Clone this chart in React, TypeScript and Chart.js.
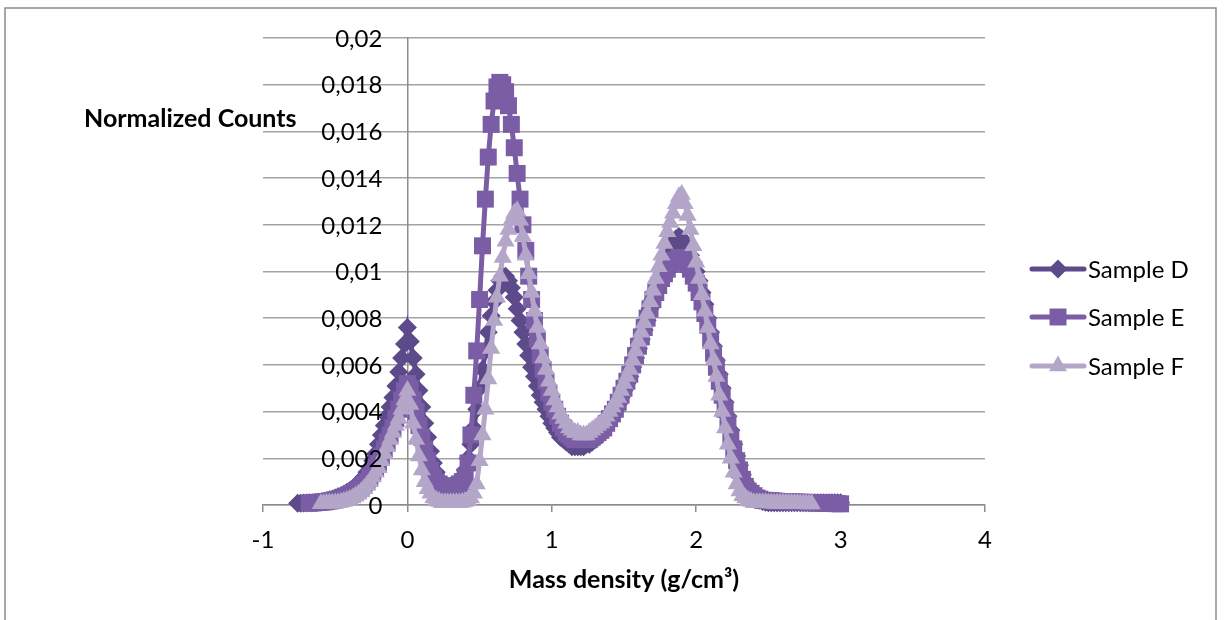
import React, { useEffect, useRef } from 'react';
import { Chart, registerables } from 'chart.js';

Chart.register(...registerables);

// Bin centres (mass density, g/cm³)
const X = [
  -0.76, -0.74, -0.72, -0.7, -0.68, -0.66, -0.64, -0.62, -0.6, -0.58,
  -0.56, -0.54, -0.52, -0.5, -0.48, -0.46, -0.44, -0.42, -0.4, -0.38,
  -0.36, -0.34, -0.32, -0.3, -0.28, -0.26, -0.24, -0.22, -0.2, -0.18,
  -0.16, -0.14, -0.12, -0.1, -0.08, -0.06, -0.04, -0.02, 0, 0.02,
  0.04, 0.06, 0.08, 0.1, 0.12, 0.14, 0.16, 0.18, 0.2, 0.22,
  0.24, 0.26, 0.28, 0.3, 0.32, 0.34, 0.36, 0.38, 0.4, 0.42,
  0.44, 0.46, 0.48, 0.5, 0.52, 0.54, 0.56, 0.58, 0.6, 0.62,
  0.64, 0.66, 0.68, 0.7, 0.72, 0.74, 0.76, 0.78, 0.8, 0.82,
  0.84, 0.86, 0.88, 0.9, 0.92, 0.94, 0.96, 0.98, 1, 1.02,
  1.04, 1.06, 1.08, 1.1, 1.12, 1.14, 1.16, 1.18, 1.2, 1.22,
  1.24, 1.26, 1.28, 1.3, 1.32, 1.34, 1.36, 1.38, 1.4, 1.42,
  1.44, 1.46, 1.48, 1.5, 1.52, 1.54, 1.56, 1.58, 1.6, 1.62,
  1.64, 1.66, 1.68, 1.7, 1.72, 1.74, 1.76, 1.78, 1.8, 1.82,
  1.84, 1.86, 1.88, 1.9, 1.92, 1.94, 1.96, 1.98, 2, 2.02,
  2.04, 2.06, 2.08, 2.1, 2.12, 2.14, 2.16, 2.18, 2.2, 2.22,
  2.24, 2.26, 2.28, 2.3, 2.32, 2.34, 2.36, 2.38, 2.4, 2.42,
  2.44, 2.46, 2.48, 2.5, 2.52, 2.54, 2.56, 2.58, 2.6, 2.62,
  2.64, 2.66, 2.68, 2.7, 2.72, 2.74, 2.76, 2.78, 2.8, 2.82,
  2.84, 2.86, 2.88, 2.9, 2.92, 2.94, 2.96, 2.98, 3,
];

const SAMPLE_D = [
  0.00008, 0.00008, 0.00009, 0.00009, 0.0001, 0.0001, 0.00011, 0.00012, 0.00013, 0.00015,
  0.00018, 0.00021, 0.00025, 0.0003, 0.00035, 0.0004, 0.00046, 0.00053, 0.00061, 0.0007,
  0.0008, 0.00092, 0.00106, 0.0012, 0.0014, 0.0016, 0.0019, 0.0022, 0.0026, 0.003,
  0.0034, 0.0038, 0.0042, 0.0046, 0.0051, 0.0057, 0.0063, 0.0069, 0.0076, 0.007,
  0.0063, 0.0056, 0.0049, 0.0042, 0.0035, 0.0029, 0.0023, 0.0018, 0.0014, 0.0011,
  0.0009, 0.0008, 0.0008, 0.0008, 0.0008, 0.0009, 0.001, 0.0012, 0.0015, 0.002,
  0.0026, 0.0033, 0.0041, 0.005, 0.0058, 0.0066, 0.0074, 0.0081, 0.0087, 0.0092,
  0.0096, 0.0098, 0.0098, 0.0096, 0.0093, 0.0089, 0.0084, 0.0079, 0.0074, 0.0069,
  0.0064, 0.0059, 0.0055, 0.0051, 0.0047, 0.0044, 0.0041, 0.0038, 0.0035, 0.0033,
  0.0031, 0.0029, 0.0028, 0.0027, 0.0026, 0.0025, 0.0025, 0.0025, 0.0025, 0.0025,
  0.0026, 0.0026, 0.0027, 0.0028, 0.0029, 0.003, 0.0032, 0.0034, 0.0036, 0.0038,
  0.004, 0.0043, 0.0046, 0.0049, 0.0052, 0.0055, 0.0059, 0.0063, 0.0067, 0.0071,
  0.0075, 0.0079, 0.0084, 0.0088, 0.0092, 0.0096, 0.01, 0.0104, 0.0107, 0.011,
  0.0112, 0.0114, 0.0115, 0.0114, 0.0112, 0.011, 0.0107, 0.0104, 0.01, 0.0096,
  0.0091, 0.0086, 0.008, 0.0074, 0.0068, 0.0062, 0.0056, 0.005, 0.0044, 0.0038,
  0.0032, 0.0026, 0.0021, 0.0017, 0.0013, 0.001, 0.0008, 0.0006, 0.0004, 0.0003,
  0.0002, 0.00015, 0.00012, 0.0001, 0.0001, 0.0001, 0.0001, 0.0001, 0.0001, 0.0001,
  0.0001, 0.0001, 0.0001, 0.0001, 0.0001, 0.0001, 0.0001, 0.0001, 0.0001, 0.0001,
  0.0001, 0.0001, 0.0001, 0.0001, 0.0001, 0.0001, 0.0001, 0.0001, 0.0001,
];

const SAMPLE_E = [
  null, null, null, null, 0.00008, 0.00009, 0.0001, 0.00011, 0.00012, 0.00013,
  0.00015, 0.00017, 0.00019, 0.00022, 0.00025, 0.00029, 0.00033, 0.00038, 0.00044, 0.0005,
  0.00058, 0.00067, 0.00077, 0.00089, 0.001, 0.0012, 0.0014, 0.0016, 0.0018, 0.0021,
  0.0024, 0.0027, 0.003, 0.0033, 0.0037, 0.0041, 0.0045, 0.0049, 0.0052, 0.005,
  0.0045, 0.004, 0.0034, 0.0029, 0.0024, 0.0019, 0.0015, 0.0012, 0.001, 0.0009,
  0.0008, 0.0008, 0.0008, 0.0008, 0.0008, 0.0008, 0.0009, 0.001, 0.0012, 0.0018,
  0.003, 0.0047, 0.0066, 0.0088, 0.0111, 0.0131, 0.0149, 0.0163, 0.0173, 0.0179,
  0.0181, 0.018, 0.0177, 0.0171, 0.0163, 0.0153, 0.0142, 0.0131, 0.012, 0.0109,
  0.0098, 0.0088, 0.0079, 0.0071, 0.0064, 0.0058, 0.0053, 0.0048, 0.0044, 0.0041,
  0.0038, 0.0035, 0.0033, 0.0031, 0.003, 0.0029, 0.0028, 0.0028, 0.0028, 0.0028,
  0.0028, 0.0028, 0.0029, 0.003, 0.0031, 0.0032, 0.0033, 0.0035, 0.0037, 0.0039,
  0.0041, 0.0044, 0.0047, 0.005, 0.0053, 0.0056, 0.006, 0.0064, 0.0068, 0.0072,
  0.0076, 0.008, 0.0084, 0.0088, 0.0091, 0.0094, 0.0097, 0.0099, 0.0101, 0.0103,
  0.0104, 0.0105, 0.0106, 0.0106, 0.0105, 0.0103, 0.0101, 0.0098, 0.0095, 0.0091,
  0.0087, 0.0082, 0.0077, 0.0071, 0.0065, 0.0059, 0.0053, 0.0047, 0.0041, 0.0035,
  0.0029, 0.0024, 0.0019, 0.0015, 0.0011, 0.0008, 0.0006, 0.0005, 0.0004, 0.0003,
  0.00025, 0.0002, 0.0002, 0.00019, 0.00018, 0.00017, 0.00016, 0.00015, 0.00015, 0.00014,
  0.00014, 0.00013, 0.00013, 0.00012, 0.00012, 0.00011, 0.00011, 0.0001, 0.0001, 0.0001,
  0.00009, 0.00009, 0.00008, 0.00008, 0.00007, 0.00007, 0.00006, 0.00006, 0.00005,
];

const SAMPLE_F = [
  null, null, null, null, null, null, null, null, 0.00005, 0.00005,
  0.00006, 0.00007, 0.00008, 0.00009, 0.0001, 0.00012, 0.00015, 0.00019, 0.00024, 0.0003,
  0.00037, 0.00046, 0.00057, 0.0007, 0.00085, 0.001, 0.0012, 0.0014, 0.0016, 0.0019,
  0.0022, 0.0025, 0.0028, 0.0031, 0.0034, 0.0037, 0.0041, 0.0045, 0.0049, 0.0043,
  0.0035, 0.0028, 0.0021, 0.0015, 0.001, 0.0007, 0.0005, 0.0003, 0.0002, 0.00015,
  0.0001, 0.0001, 0.0001, 0.0001, 0.0001, 0.0001, 0.0001, 0.00012, 0.00015, 0.0002,
  0.0003, 0.0005, 0.0009, 0.0019, 0.003, 0.0041, 0.0054, 0.0067, 0.0079, 0.0089,
  0.0098, 0.0106, 0.0113, 0.0118, 0.0122, 0.0125, 0.0126, 0.0122, 0.0115, 0.0107,
  0.0099, 0.0091, 0.0083, 0.0076, 0.0069, 0.0063, 0.0058, 0.0053, 0.0049, 0.0045,
  0.0042, 0.0039, 0.0037, 0.0035, 0.0033, 0.0032, 0.0031, 0.0031, 0.003, 0.003,
  0.003, 0.0031, 0.0032, 0.0033, 0.0034, 0.0035, 0.0036, 0.0038, 0.004, 0.0042,
  0.0044, 0.0046, 0.0049, 0.0052, 0.0055, 0.0058, 0.0062, 0.0066, 0.007, 0.0074,
  0.0078, 0.0082, 0.0087, 0.0092, 0.0097, 0.0102, 0.0107, 0.0112, 0.0117, 0.0121,
  0.0125, 0.0129, 0.0132, 0.0133, 0.0129, 0.0124, 0.0118, 0.0111, 0.0104, 0.0097,
  0.009, 0.0083, 0.0076, 0.0069, 0.0062, 0.0055, 0.0047, 0.004, 0.0033, 0.0026,
  0.002, 0.0014, 0.0009, 0.0006, 0.0004, 0.0003, 0.0002, 0.00015, 0.0001, 0.0001,
  0.0001, 0.0001, 0.0001, 0.00009, 0.00009, 0.00008, 0.00008, 0.00008, 0.00007, 0.00007,
  0.00007, 0.00006, 0.00006, 0.00006, 0.00005, 0.00005, 0.00005, 0.00004, 0.00004, null,
  null, null, null, null, null, null, null, null, null,
];

const SERIES_NAMES = ['Sample D', 'Sample E', 'Sample F'];
const X_TICKS = [-1, 0, 1, 2, 3, 4];
const Y_TICKS = [0, 0.002, 0.004, 0.006, 0.008, 0.01, 0.012, 0.014, 0.016, 0.018, 0.02];
const Y_TICK_LABELS = ['0', '0,002', '0,004', '0,006', '0,008', '0,01', '0,012', '0,014', '0,016', '0,018', '0,02'];
const Y_TITLE = 'Normalized Counts';
const X_TITLE = 'Mass density (g/cm³)';

const COLORS = ['#5D4A8A', '#7B5DA6', '#B3A6C9'];
const POINT_STYLES = ['rectRot', 'rect', 'triangle'];
const POINT_RADII = [9.5, 12, 10.5];
const GRID_COLOR = '#A3A3A3';
const AXIS_COLOR = '#8C8C8C';
const FONT = 'Lato';
const TICK_SIZE = 24;
const TITLE_SIZE = 25;

function toPoints(ys: (number | null)[]) {
  const pts: { x: number; y: number }[] = [];
  X.forEach((x, i) => {
    const y = ys[i];
    if (y !== null && y !== undefined) pts.push({ x, y });
  });
  return pts;
}

function drawMarker(ctx: CanvasRenderingContext2D, style: string, x: number, y: number, r: number) {
  ctx.beginPath();
  if (style === 'rectRot') {
    ctx.moveTo(x, y - r);
    ctx.lineTo(x + r, y);
    ctx.lineTo(x, y + r);
    ctx.lineTo(x - r, y);
  } else if (style === 'rect') {
    const s = r * Math.SQRT1_2;
    ctx.rect(x - s, y - s, 2 * s, 2 * s);
  } else {
    ctx.moveTo(x, y - r);
    ctx.lineTo(x + r * Math.sin(Math.PI * 2 / 3), y + r / 2);
    ctx.lineTo(x - r * Math.sin(Math.PI * 2 / 3), y + r / 2);
  }
  ctx.closePath();
  ctx.fill();
}

const framePlugin = {
  id: 'frame',
  beforeDraw(chart: any) {
    const ctx = chart.ctx;
    ctx.save();
    ctx.fillStyle = '#FFFFFF';
    ctx.fillRect(0, 0, chart.width, chart.height);
    ctx.strokeStyle = '#8A8A8A';
    ctx.lineWidth = 1.5;
    ctx.strokeRect(5, 8, 1211, 640);
    ctx.restore();
  },
  afterDatasetsDraw(chart: any) {
    // value labels of the vertical axis sit on top of the data, next to the axis crossing at x = 0
    const ctx = chart.ctx;
    const xs = chart.scales.x;
    const ys = chart.scales.y;
    const axisX = xs.getPixelForValue(0);
    ctx.save();
    ctx.fillStyle = '#000';
    ctx.font = `${TICK_SIZE}px ${FONT}`;
    ctx.textAlign = 'right';
    ctx.textBaseline = 'middle';
    Y_TICKS.forEach((v, i) => {
      ctx.fillText(Y_TICK_LABELS[i], axisX - 25, ys.getPixelForValue(v) + 1);
    });
    ctx.restore();
  },
  afterDraw(chart: any) {
    const ctx = chart.ctx;
    ctx.save();
    ctx.fillStyle = '#000';
    ctx.font = `bold ${TITLE_SIZE}px ${FONT}`;
    ctx.textAlign = 'left';
    ctx.textBaseline = 'middle';
    ctx.fillText(Y_TITLE, 84, 119);
    const rows = [269, 317, 366];
    SERIES_NAMES.forEach((name, i) => {
      const y = rows[i];
      ctx.strokeStyle = COLORS[i];
      ctx.lineWidth = 5;
      ctx.lineCap = 'round';
      ctx.beginPath();
      ctx.moveTo(1032, y);
      ctx.lineTo(1084, y);
      ctx.stroke();
      ctx.fillStyle = COLORS[i];
      drawMarker(ctx, POINT_STYLES[i], 1058, y, POINT_RADII[i]);
      ctx.fillStyle = '#000';
      ctx.font = `${TICK_SIZE}px ${FONT}`;
      ctx.textAlign = 'left';
      ctx.textBaseline = 'middle';
      ctx.fillText(name, 1088, y + 1);
    });
    ctx.restore();
  },
};

export default function App() {
  const canvasRef = useRef<HTMLCanvasElement | null>(null);

  useEffect(() => {
    const canvas = canvasRef.current;
    if (!canvas) return;
    Chart.defaults.font.family = FONT;
    const seriesData = [SAMPLE_D, SAMPLE_E, SAMPLE_F];
    const datasets = seriesData.map((ys, i) => ({
      label: SERIES_NAMES[i],
      data: toPoints(ys),
      showLine: true,
      borderColor: COLORS[i],
      backgroundColor: COLORS[i],
      borderWidth: 5,
      pointStyle: POINT_STYLES[i],
      pointRadius: POINT_RADII[i],
      pointBackgroundColor: COLORS[i],
      pointBorderColor: COLORS[i],
      pointBorderWidth: 0,
      pointHoverRadius: POINT_RADII[i],
      order: 3 - i,
      clip: false,
      tension: 0,
    }));

    const chart = new Chart(canvas, {
      type: 'scatter',
      data: { datasets } as any,
      options: {
        animation: false,
        responsive: false,
        devicePixelRatio: 1,
        events: [],
        layout: { padding: { left: 263, right: 239, top: 38, bottom: 0 } },
        plugins: { legend: { display: false }, tooltip: { enabled: false } },
        scales: {
          x: {
            type: 'linear',
            min: -1,
            max: 4,
            afterBuildTicks: (s: any) => {
              s.ticks = X_TICKS.map((v) => ({ value: v }));
            },
            afterFit: (s: any) => {
              s.height = 115;
            },
            grid: { drawOnChartArea: false, drawTicks: true, tickLength: 7, color: AXIS_COLOR, lineWidth: 1.5 },
            border: { display: true, color: AXIS_COLOR, width: 1.5 },
            ticks: {
              padding: 14,
              color: '#000',
              font: { size: TICK_SIZE, family: FONT },
              callback: (v: any) => String(v),
            },
            title: {
              display: true,
              text: X_TITLE,
              color: '#000',
              font: { size: TITLE_SIZE, weight: 'bold', family: FONT },
              padding: { top: 0, bottom: 25 },
            },
          },
          y: {
            type: 'linear',
            min: 0,
            max: 0.02,
            position: { x: 0 } as any,
            afterBuildTicks: (s: any) => {
              s.ticks = Y_TICKS.map((v) => ({ value: v }));
            },
            grid: { drawTicks: false, color: GRID_COLOR, lineWidth: 1.5 },
            border: { display: true, color: AXIS_COLOR, width: 1.5 },
            ticks: { display: false },
          },
        },
      } as any,
      plugins: [framePlugin],
    });
    return () => chart.destroy();
  }, []);

  return (
    <div style={{ position: 'absolute', left: 0, top: 0, width: 1224, height: 620, background: '#fff' }}>
      <canvas ref={canvasRef} width={1224} height={620} style={{ display: 'block' }} />
    </div>
  );
}
